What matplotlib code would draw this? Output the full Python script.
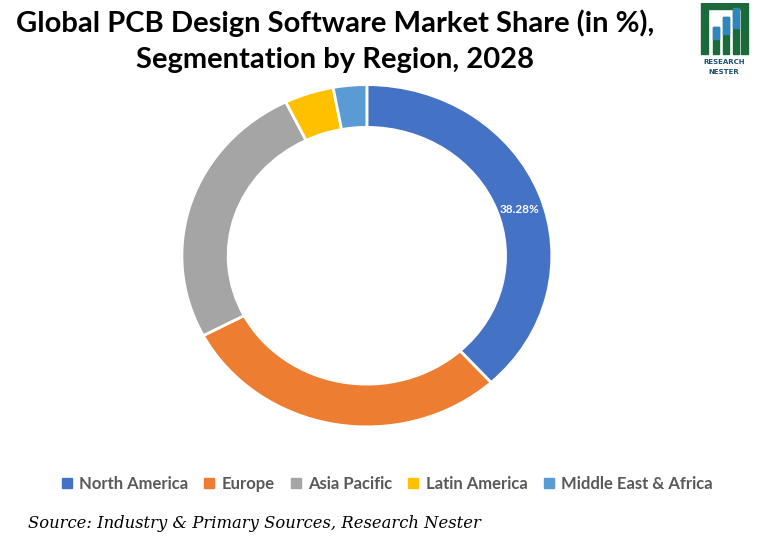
import matplotlib
matplotlib.use("Agg")
import matplotlib.pyplot as plt
from matplotlib.patches import Rectangle, Polygon
import numpy as np

# Data
regions = ["North America", "Europe", "Asia Pacific", "Latin America", "Middle East & Africa"]
shares = [38.28, 29.0, 25.5, 4.3, 2.92]
colors = ["#4472C4", "#ED7D31", "#A5A5A5", "#FFC000", "#5B9BD5"]
title = "Global PCB Design Software Market Share (in %),\nSegmentation by Region, 2028"
source = "Source: Industry & Primary Sources, Research Nester"

fig = plt.figure(figsize=(7.58, 5.39), dpi=100)
fig.patch.set_facecolor("white")

# Donut (slightly wider than tall, like the reference)
ax = fig.add_axes([0.240, 0.208, 0.488, 0.635])
wedges, _ = ax.pie(shares, colors=colors, startangle=90, counterclock=False,
                   radius=1.0, wedgeprops=dict(width=0.25, edgecolor="white", linewidth=2))
ax.set_aspect("auto")
ax.set_xlim(-1, 1)
ax.set_ylim(-1, 1)

# Label only the biggest slice
w = wedges[0]
mid = np.deg2rad((w.theta1 + w.theta2) / 2 - 3)
ax.text(0.87 * np.cos(mid), 0.87 * np.sin(mid), f"{shares[0]:.2f}%",
        ha="center", va="center", color="white", fontsize=8.5, fontweight="bold",
        family="Lato")

# Title
fig.text(0.442, 0.924, title, ha="center", va="center", fontsize=21,
         fontweight="bold", family="Lato", linespacing=1.5)

# Legend
handles = [plt.Line2D([], [], marker="s", linestyle="", color=c, markersize=7) for c in colors]
leg = fig.legend(handles, regions, loc="center", bbox_to_anchor=(0.511, 0.102), ncol=5,
                 frameon=False, handlelength=0.6, handletextpad=0.45, columnspacing=0.95,
                 prop=dict(family="Lato", size=12, weight="bold"))
for t in leg.get_texts():
    t.set_color("#595959")

# Source
fig.text(0.037, 0.028, source, ha="left", va="center", fontsize=11.8,
         style="italic", family="DejaVu Serif")

# Small logo
lax = fig.add_axes([0.918, 0.855, 0.072, 0.14])
lax.set_xlim(0, 10)
lax.set_ylim(0, 14)
lax.axis("off")
green = "#1B6B3A"
blue = "#2E86C1"
lax.add_patch(Polygon([(1, 4.5), (1, 14), (9.5, 14), (9.5, 4.5), (8.3, 4.5), (8.3, 12.8),
                       (2.2, 12.8), (2.2, 4.5)], closed=True, color=green))
for x0, h in [(3.2, 5.0), (5.0, 6.8), (6.8, 8.6)]:
    lax.add_patch(Rectangle((x0, 4.5), 1.1, h, color=green))
    lax.add_patch(Rectangle((x0, 4.5 + h * 0.55), 1.1, h * 0.45, color=blue))
lax.text(5.2, 3.0, "RESEARCH", ha="center", va="center", fontsize=5, color="#1B4F72",
         fontweight="bold")
lax.text(5.2, 1.2, "NESTER", ha="center", va="center", fontsize=5, color="#1B4F72",
         fontweight="bold")

fig.savefig("out.png", dpi=100)
